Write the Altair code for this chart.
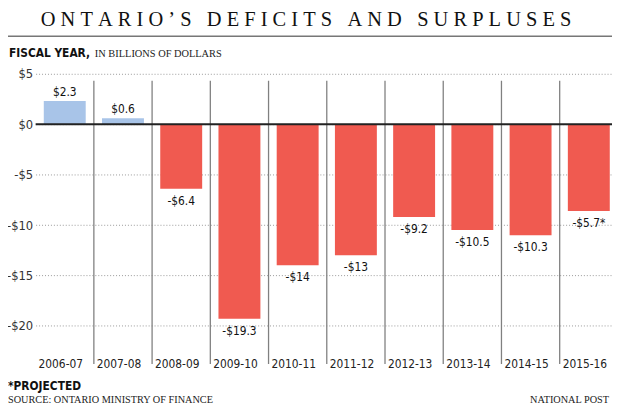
import altair as alt
import pandas as pd

years = ["2006-07", "2007-08", "2008-09", "2009-10", "2010-11",
         "2011-12", "2012-13", "2013-14", "2014-15", "2015-16"]
bar_values = [2.3, 0.6, -6.4, -19.3, -14.0, -13.0, -9.2, -10.5, -11.0, -8.6]
bar_labels = ["$2.3", "$0.6", "-$6.4", "-$19.3", "-$14", "-$13",
              "-$9.2", "-$10.5", "-$10.3", "-$5.7*"]
y_ticks = [5, 0, -5, -10, -15, -20]

title_words = ["ONTARIO\u2019S", "DEFICITS", "AND", "SURPLUSES"]
title_text = "\u00a0\u00a0\u00a0".join("\u00a0".join(w) for w in title_words)
sub_bold = "FISCAL YEAR,"
sub_rest = "IN BILLIONS OF DOLLARS"
note = "*PROJECTED"
source = "SOURCE: ONTARIO MINISTRY OF FINANCE"
credit = "NATIONAL POST"

COND = "Liberation Sans Narrow, DejaVu Sans Condensed, Roboto, sans-serif"
SERIF = "Liberation Serif, DejaVu Serif, serif"
BLUE = "#a8c4e8"
RED = "#f05a50"

W, H = 584, 292

df = pd.DataFrame({"year": years, "value": bar_values, "label": bar_labels})

xscale = alt.Scale(domain=years, paddingInner=0.28, paddingOuter=0.14, range=[0, 590])
yscale = alt.Scale(domain=[-23, 5.6], nice=False, zero=False)

base = alt.Chart(df)

bars = base.mark_bar().encode(
    x=alt.X("year:N", scale=xscale, sort=years,
            axis=alt.Axis(title=None, domain=False, ticks=False, labelAngle=0,
                          labelFont=COND, labelFontSize=12, labelColor="#222",
                          labelPadding=8, labelBaseline="middle", labelOffset=-4)),
    y=alt.Y("value:Q", scale=yscale,
            axis=alt.Axis(title=None, domain=False, ticks=False, values=y_ticks,
                          labelFont=COND, labelFontSize=13, labelColor="#333",
                          labelPadding=3, labelBaseline="middle",
                          labelExpr="datum.value > 0 ? '$' + datum.value : (datum.value < 0 ? '-$' + abs(datum.value) : '$0')",
                          grid=True, gridDash=[1, 2], gridColor="#999", gridWidth=1)),
    color=alt.condition(alt.datum.value > 0, alt.value(BLUE), alt.value(RED)),
)

seps = alt.Chart(pd.DataFrame({"year": years[:-1]})).mark_rule(
    color="#808080", strokeWidth=1.3, xOffset=29.5
).encode(
    x=alt.X("year:N", scale=xscale, sort=years),
    y=alt.value(13), y2=alt.value(300),
)

zero = alt.Chart(pd.DataFrame({"z": [0]})).mark_rule(color="#222", strokeWidth=2).encode(
    y=alt.Y("z:Q", scale=yscale)
)

pos_lab = base.transform_filter(alt.datum.value > 0).mark_text(
    font=COND, fontSize=12, color="#111", baseline="middle", dy=-9
).encode(x=alt.X("year:N", scale=xscale, sort=years),
         y=alt.Y("value:Q", scale=yscale), text="label:N")

neg_lab = base.transform_filter(alt.datum.value < 0).mark_text(
    font=COND, fontSize=12, color="#111", baseline="middle", dy=12
).encode(x=alt.X("year:N", scale=xscale, sort=years),
         y=alt.Y("value:Q", scale=yscale), text="label:N")


def txt(s, x, y, **kw):
    return alt.Chart(pd.DataFrame({"t": [s]})).mark_text(**kw).encode(
        text="t:N", x=alt.value(x), y=alt.value(y))


title = txt(title_text, 274, -42, font=SERIF, fontSize=20.7, color="#111",
            align="center", baseline="alphabetic")
title_rule = alt.Chart(pd.DataFrame({"r": [0]})).mark_rule(color="#777", strokeWidth=1.5).encode(
    x=alt.value(-28), x2=alt.value(590), y=alt.value(-32))
sub1 = txt(sub_bold, -27, -11, font=COND, fontSize=12, fontWeight="bold", color="#111",
           align="left", baseline="alphabetic")
sub2 = txt(sub_rest, 60, -11, font=SERIF, fontSize=10.5, color="#222",
           align="left", baseline="alphabetic")
note_t = txt(note, -28, 326, font=COND, fontSize=12, fontWeight="bold", color="#111",
             align="left", baseline="alphabetic")
src_t = txt(source, -28, 340, font=SERIF, fontSize=10.4, color="#222",
            align="left", baseline="alphabetic")
cred_t = txt(credit, 581, 340, font=SERIF, fontSize=10.4, color="#222",
             align="right", baseline="alphabetic")

chart = alt.layer(
    bars, seps, zero, pos_lab, neg_lab,
    title, title_rule, sub1, sub2, note_t, src_t, cred_t
).properties(
    width=W, height=H,
    autosize=alt.AutoSizeParams(type="none"),
    padding={"left": 28, "top": 58, "right": 0, "bottom": 52},
).configure_view(stroke=None)

chart.save("out.html", embed_options={"renderer": "svg", "actions": False})
